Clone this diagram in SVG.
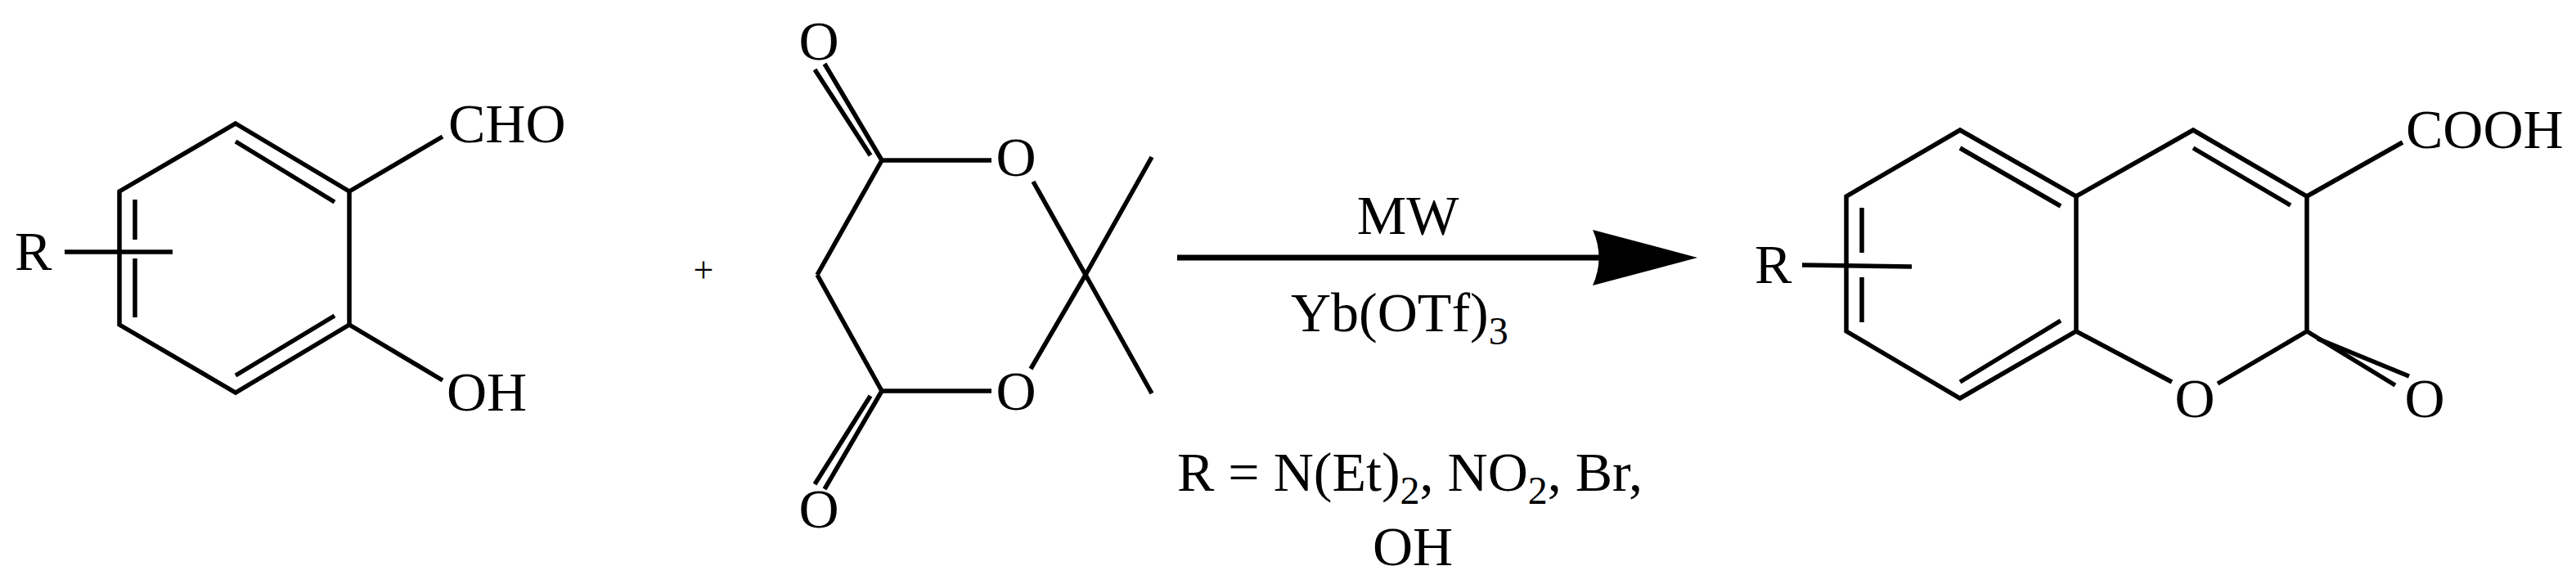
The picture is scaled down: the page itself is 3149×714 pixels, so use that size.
<svg xmlns="http://www.w3.org/2000/svg" width="3149" height="714" viewBox="0 0 3149 714">
<style>
line,polyline{stroke:#000;stroke-width:5.5;fill:none;stroke-linecap:butt}
text{font-family:"Liberation Serif","Times New Roman",serif;font-size:68px;fill:#000}
.m{text-anchor:middle}
.s{font-size:48px}
</style>
<rect width="3149" height="714" fill="#fff"/>
<g id="salicylaldehyde">
<polygon points="288,151 427,234 427,397 288,480 146,397 146,234" fill="none" stroke="#000" stroke-width="5.5"/>
<line x1="165" y1="244" x2="165" y2="293"/><line x1="165" y1="316" x2="165" y2="388"/>
<line x1="288" y1="173" x2="409" y2="247"/><line x1="288" y1="459" x2="409" y2="386"/>
<line x1="79" y1="308" x2="211" y2="308"/>
<line x1="427" y1="234" x2="541" y2="167"/><line x1="427" y1="397" x2="541" y2="465"/>
<text x="18" y="330">R</text>
<text x="548" y="174">CHO</text>
<text x="546" y="502">OH</text>
</g>
<g id="plus"><text x="860" y="345" class="m" style="font-size:44px">+</text></g>
<g id="meldrum">
<line x1="1078" y1="196" x2="1212" y2="196"/><line x1="1078" y1="478" x2="1212" y2="478"/>
<line x1="1078" y1="196" x2="999" y2="336"/><line x1="999" y1="336" x2="1078" y2="478"/>
<line x1="1078" y1="196" x2="1008" y2="78"/><line x1="1064" y1="190" x2="996" y2="85"/>
<line x1="1078" y1="478" x2="1008" y2="598"/><line x1="1064" y1="484" x2="996" y2="592"/>
<line x1="1263" y1="222" x2="1327" y2="336"/><line x1="1260" y1="451" x2="1327" y2="336"/>
<line x1="1327" y1="336" x2="1408" y2="192"/><line x1="1327" y1="336" x2="1408" y2="481"/>
<text x="1001" y="73" class="m">O</text>
<text x="1242" y="215" class="m">O</text>
<text x="1242" y="501" class="m">O</text>
<text x="1001" y="645" class="m">O</text>
</g>
<g id="connectors">
<line x1="1439" y1="315" x2="1965" y2="315" style="stroke-width:7"/>
<path d="M2075,315 L1947,281 Q1962,315 1947,349 Z" fill="#000"/>
</g>
<g id="conditions">
<text x="1721" y="286" class="m">MW</text>
<text x="1578" y="405">Yb(OTf)<tspan class="s" dy="16">3</tspan></text>
<text x="1439" y="600">R = N(Et)<tspan class="s" dy="16">2</tspan><tspan dy="-16">, NO</tspan><tspan class="s" dy="16">2</tspan><tspan dy="-16">, Br,</tspan></text>
<text x="1727" y="691" class="m">OH</text>
</g>
<g id="coumarin">
<polygon points="2396,159 2538,240 2538,405 2396,487 2257,405 2257,240" fill="none" stroke="#000" stroke-width="5.5"/>
<line x1="2276" y1="254" x2="2276" y2="309"/><line x1="2276" y1="339" x2="2276" y2="394"/>
<line x1="2396" y1="181" x2="2519" y2="252"/><line x1="2396" y1="467" x2="2519" y2="392"/>
<polyline points="2538,240 2681,159 2820,240 2820,405 2711,469"/>
<line x1="2538" y1="405" x2="2655" y2="467"/>
<line x1="2681" y1="181" x2="2800" y2="251"/>
<line x1="2820" y1="405" x2="2928" y2="471"/><line x1="2833" y1="414" x2="2945" y2="460"/>
<line x1="2820" y1="240" x2="2937" y2="174"/>
<line x1="2203" y1="324" x2="2337" y2="326"/>
<text x="2145" y="346">R</text>
<text x="2683" y="510" class="m">O</text>
<text x="2964" y="510" class="m">O</text>
<text x="2941" y="181">COOH</text>
</g>
</svg>
